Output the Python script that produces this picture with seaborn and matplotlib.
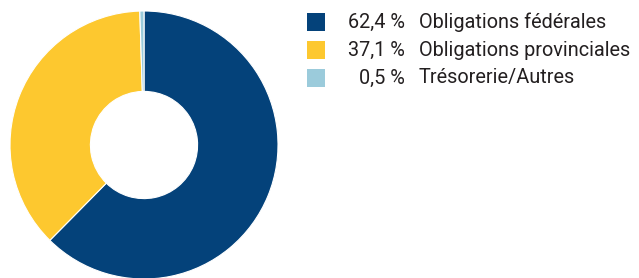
import matplotlib
matplotlib.use("Agg")
import matplotlib.pyplot as plt
import seaborn as sns
from matplotlib.patches import Rectangle

sns.set_theme(style="white")
plt.rcParams['font.family'] = ['Roboto', 'DejaVu Sans']

categories = ["Obligations fédérales", "Obligations provinciales", "Trésorerie/Autres"]
values = [62.4, 37.1, 0.5]
value_labels = ["62,4 %", "37,1 %", "0,5 %"]
colors = ["#04427A", "#FDC82F", "#9BCBDB"]

W, H = 639, 278
fig = plt.figure(figsize=(W / 100, H / 100), dpi=100)
ax = fig.add_axes([10 / W, -1 / H, 268 / W, 268 / H])
ax.pie(values, colors=colors, startangle=90, counterclock=False,
       radius=1.0, wedgeprops=dict(width=0.6, edgecolor="white", linewidth=0.8))
ax.set_xlim(-1, 1)
ax.set_ylim(-1, 1)
ax.set_aspect("equal")
ax.axis("off")

row_y = [22, 50, 78]
for i, (cat, vl, c) in enumerate(zip(categories, value_labels, colors)):
    yc = row_y[i]
    fig.patches.append(Rectangle((307 / W, (H - yc - 9) / H), 18 / W, 18 / H,
                                 transform=fig.transFigure, facecolor=c,
                                 edgecolor="none"))
    fig.text(405 / W, (H - yc) / H, vl, ha="right", va="center",
             fontsize=14.3, color="#231F20")
    fig.text(419 / W, (H - yc) / H, cat, ha="left", va="center",
             fontsize=14.3, color="#231F20")

fig.savefig("out.png", dpi=100)
